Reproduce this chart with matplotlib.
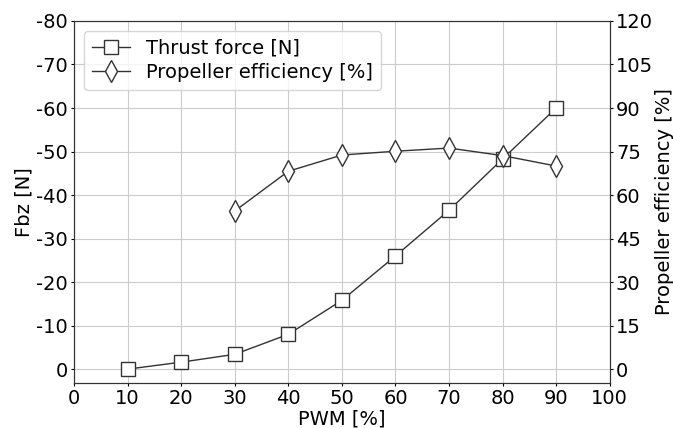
import matplotlib
matplotlib.use("Agg")
from matplotlib import pyplot as plt

pwm = [10, 20, 30, 40, 50, 60, 70, 80, 90]
thrust = [0, -1.6, -3.4, -8.0, -15.8, -26.0, -36.5, -48.3, -60.0]
pwm_eff = [30, 40, 50, 60, 70, 80, 90]
efficiency = [54.5, 68.2, 73.8, 75.1, 76.2, 73.6, 70.0]

plt.rcParams["font.size"] = 14
plt.rcParams["axes.unicode_minus"] = False
plt.rcParams["xtick.major.size"] = 2.5
plt.rcParams["ytick.major.size"] = 2.5
plt.rcParams["xtick.major.pad"] = 2
plt.rcParams["ytick.major.pad"] = 2
plt.rcParams["axes.edgecolor"] = "#333333"

fig, ax1 = plt.subplots(figsize=(6.73, 4.28), dpi=100)
fig.subplots_adjust(left=0.11, right=0.906, top=0.951, bottom=0.105)

line_col = "#333333"
l1, = ax1.plot(pwm, thrust, color=line_col, lw=1, marker="s", markersize=10,
               markerfacecolor="white", markeredgecolor=line_col, label="Thrust force [N]")
ax1.set_xlim(0, 100)
ax1.set_ylim(3.2, -80)
ax1.set_xticks(range(0, 101, 10))
ax1.set_yticks(range(0, -81, -10))
ax1.set_xlabel("PWM [%]", labelpad=1)
ax1.set_ylabel("Fbz [N]", labelpad=2)
ax1.grid(True, color="#cccccc", lw=0.8)

ax2 = ax1.twinx()
l2, = ax2.plot(pwm_eff, efficiency, color=line_col, lw=1, marker="d", markersize=11,
               markerfacecolor="white", markeredgecolor=line_col,
               label="Propeller efficiency [%]")
ax2.set_ylim(-4.8, 120)
ax2.set_yticks(range(0, 121, 15))
ax2.set_ylabel("Propeller efficiency [%]", labelpad=1)

ax1.legend(handles=[l1, l2], loc="upper left", fontsize=14,
           handlelength=2, borderpad=0.4, labelspacing=0.3)

plt.savefig("out.png")
